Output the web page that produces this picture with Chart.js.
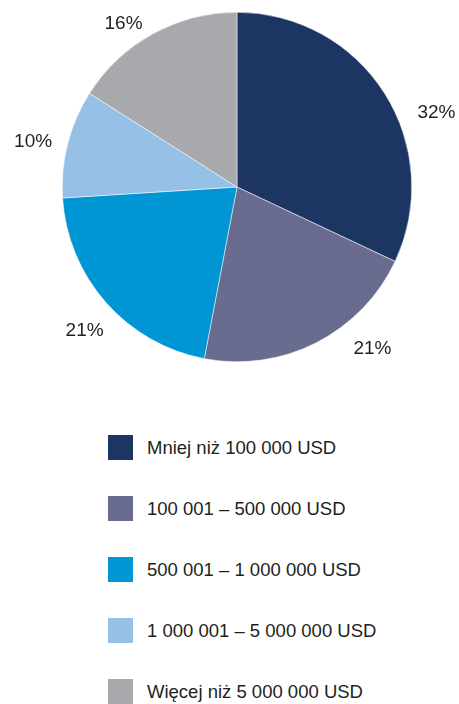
<!DOCTYPE html>
<html>
<head>
<meta charset="utf-8">
<script src="https://cdn.jsdelivr.net/npm/chart.js@4"></script>
<style>
  html, body { margin: 0; padding: 0; background: #fff; }
  body { width: 459px; height: 704px; position: relative; overflow: hidden;
         font-family: "Liberation Sans", Arial, sans-serif; color: #231f20; }
  #wrap { position: absolute; left: 0; top: 0; width: 459px; height: 380px; }
  #legend { position: absolute; left: 108px; top: 435px; }
  .row { height: 61px; display: flex; align-items: flex-start; }
  .box { width: 25px; height: 25px; flex: none; }
  .lbl { margin-left: 14px; font-size: 18.5px; line-height: 25px; white-space: nowrap; }
</style>
</head>
<body>
<div id="wrap"><canvas id="c-pie"></canvas></div>
<div id="legend"></div>
<script>
const categories = [
  'Mniej niż 100 000 USD',
  '100 001 – 500 000 USD',
  '500 001 – 1 000 000 USD',
  '1 000 001 – 5 000 000 USD',
  'Więcej niż 5 000 000 USD'
];
const shares = [32, 21, 21, 10, 16];
const colors = ['#1c3562', '#696c8f', '#0096d3', '#97c0e6', '#a7a9ac'];

// nudges for the % labels (degrees, px beyond the rim)
const labelTurn = [12, -13, -2, -2, -6];
const labelGap = [38, 36, 35, 34, 24];

const pctLabels = {
  id: 'pctLabels',
  afterDatasetsDraw(chart) {
    const ctx = chart.ctx;
    const meta = chart.getDatasetMeta(0);
    ctx.save();
    ctx.font = '19px "Liberation Sans", Arial, sans-serif';
    ctx.fillStyle = '#231f20';
    ctx.textAlign = 'center';
    ctx.textBaseline = 'middle';
    meta.data.forEach((arc, i) => {
      const a = (arc.startAngle + arc.endAngle) / 2 + labelTurn[i] * Math.PI / 180;
      const r = arc.outerRadius + labelGap[i];
      ctx.fillText(chart.data.datasets[0].data[i] + '%', arc.x + Math.cos(a) * r, arc.y + Math.sin(a) * r);
    });
    ctx.restore();
  }
};

const chart = new Chart(document.getElementById('c-pie'), {
  type: 'pie',
  data: {
    labels: categories,
    datasets: [{ data: shares, backgroundColor: colors, borderColor: '#fff', borderWidth: 0.5 }]
  },
  options: {
    responsive: true, maintainAspectRatio: false, animation: false,
    layout: { padding: { top: 12, bottom: 18, left: 62, right: 47 } },
    plugins: { legend: { display: false }, tooltip: { enabled: false } }
  },
  plugins: [pctLabels]
});

// legend built from the chart's own data
const legend = document.getElementById('legend');
chart.data.labels.forEach((name, i) => {
  const row = document.createElement('div');
  row.className = 'row';
  row.innerHTML = `<div class="box" style="background:${colors[i]}"></div><div class="lbl">${name}</div>`;
  legend.appendChild(row);
});
</script>
</body>
</html>
